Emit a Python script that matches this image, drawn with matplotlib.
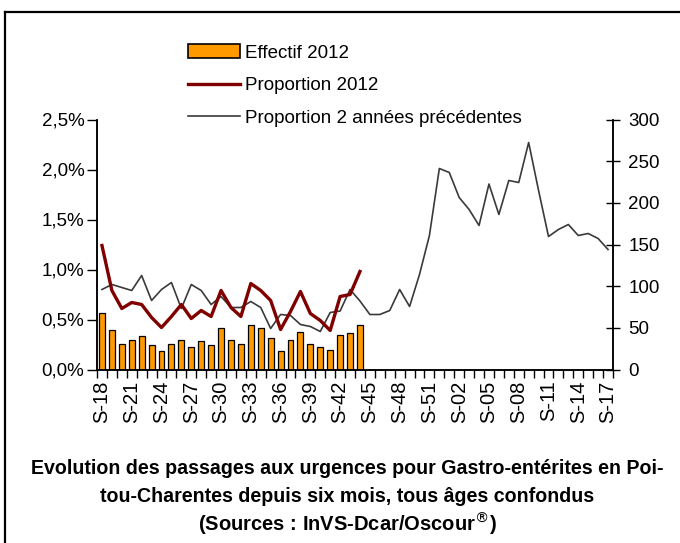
#Python libraries for math and graphics
import numpy as np
import matplotlib.pyplot as plt
from matplotlib.lines import Line2D
from matplotlib.patches import Patch
from matplotlib.ticker import FuncFormatter

plt.rcParams['font.family'] = ['Liberation Sans', 'DejaVu Sans']

# Weeks S-18 (2012) to S-17 (2013)
weeks = ['S-%02d' % w for w in list(range(18, 53)) + list(range(1, 18))]

# Effectif 2012 (counts, right axis), S-18 .. S-44
effectif_2012 = [68, 47, 31, 36, 40, 29, 22, 31, 36, 27, 34, 29, 50, 36,
                 31, 54, 50, 38, 22, 36, 45, 31, 27, 23, 42, 44, 53]

# Proportion 2012 (%), S-18 .. S-44
prop_2012 = [1.24, 0.79, 0.61, 0.67, 0.65, 0.52, 0.42, 0.53, 0.65, 0.51,
             0.59, 0.53, 0.79, 0.62, 0.53, 0.86, 0.79, 0.69, 0.40, 0.58,
             0.78, 0.56, 0.49, 0.39, 0.73, 0.75, 0.98]

# Proportion 2 annees precedentes (%), S-18 .. S-17
prop_prec = [0.80, 0.85, 0.82, 0.79, 0.94, 0.69, 0.80, 0.87, 0.61, 0.85,
             0.79, 0.65, 0.73, 0.62, 0.62, 0.68, 0.62, 0.41, 0.55, 0.54,
             0.45, 0.43, 0.38, 0.57, 0.585, 0.80, 0.685, 0.55, 0.55, 0.59,
             0.80, 0.63, 0.95, 1.34, 2.01, 1.97, 1.72, 1.60, 1.44, 1.855,
             1.55, 1.89, 1.87, 2.27, 1.79, 1.33, 1.40, 1.45, 1.34, 1.36,
             1.31, 1.20]

fig = plt.figure(figsize=(6.8, 5.43), dpi=100)

# Frame lines (left and top)
fig.add_artist(Line2D([5/680, 5/680], [0, 1 - 12/543], color='black', lw=1.6))
fig.add_artist(Line2D([5/680, 1], [1 - 12/543, 1 - 12/543], color='black', lw=1.6))

ax = fig.add_axes([97/680, 1 - 369.5/543, 516/680, 250/543])
x_all = np.arange(len(weeks))
x_2012 = np.arange(len(effectif_2012))

# Bars (counts) on the base axes
ax.bar(x_2012, effectif_2012, width=0.6, color='#FF9900', edgecolor='black',
       linewidth=0.9, zorder=2)
ax.set_ylim(0, 300)
ax.set_yticks(np.arange(0, 301, 50))
ax.set_xlim(-0.5, len(weeks) - 0.5)

# Percent lines on twin axes
ax2 = ax.twinx()
ax2.plot(x_all, prop_prec, color='#3a3a3a', lw=1.2, zorder=3)
ax2.plot(x_2012, prop_2012, color='#800000', lw=2.4, zorder=4)
ax2.set_ylim(0, 2.5)
ax2.set_yticks(np.arange(0, 2.51, 0.5))
ax2.set_xlim(-0.5, len(weeks) - 0.5)

# counts on the right, percent on the left
ax.yaxis.tick_right()
ax.yaxis.set_label_position('right')
ax2.yaxis.tick_left()
ax2.yaxis.set_label_position('left')
ax.tick_params(axis='y', direction='inout', length=10, width=1, labelsize=13.5, pad=6)
ax2.yaxis.set_major_formatter(FuncFormatter(lambda v, p: ('%.1f%%' % v).replace('.', ',')))
ax2.tick_params(axis='y', direction='out', length=7, width=1, labelsize=13.5, pad=2)

# X ticks: labels every 3 weeks, tick marks at category boundaries
ax.set_xticks(x_all[::3])
ax.set_xticklabels(weeks[::3], rotation=90, fontsize=14.5)
ax.set_xticks(np.arange(-0.5, len(weeks)), minor=True)
ax.tick_params(axis='x', which='major', length=0, pad=8)
ax.tick_params(axis='x', which='minor', direction='out', length=6, width=1)

for a in (ax, ax2):
    a.spines['top'].set_visible(False)
    for s in ('left', 'right', 'bottom'):
        a.spines[s].set_linewidth(1.1)

# Legend without frame
handles = [Patch(facecolor='#FF9900', edgecolor='black', linewidth=1.2),
           Line2D([], [], color='#800000', lw=2.4),
           Line2D([], [], color='#3a3a3a', lw=1.2)]
labels = ['Effectif 2012', 'Proportion 2012', 'Proportion 2 années précédentes']
fig.legend(handles, labels, loc='upper left', bbox_to_anchor=(188/680, 1 - 44/543),
           frameon=False, fontsize=13.5, handlelength=2.75, handleheight=0.8,
           labelspacing=0.8, handletextpad=0.3, borderpad=0, borderaxespad=0)

# Caption below the chart
fig.text(347/680, 1 - 468/543, 'Evolution des passages aux urgences pour Gastro-entérites en Poi-',
         ha='center', va='center', fontsize=14.1, fontweight='bold')
fig.text(347/680, 1 - 497/543, 'tou-Charentes depuis six mois, tous âges confondus',
         ha='center', va='center', fontsize=14.1, fontweight='bold')
fig.text(347/680, 1 - 524/543, '(Sources : InVS-Dcar/Oscour$^{®}$)',
         ha='center', va='center', fontsize=14.5, fontweight='bold')

plt.savefig('out.png', dpi=100)
